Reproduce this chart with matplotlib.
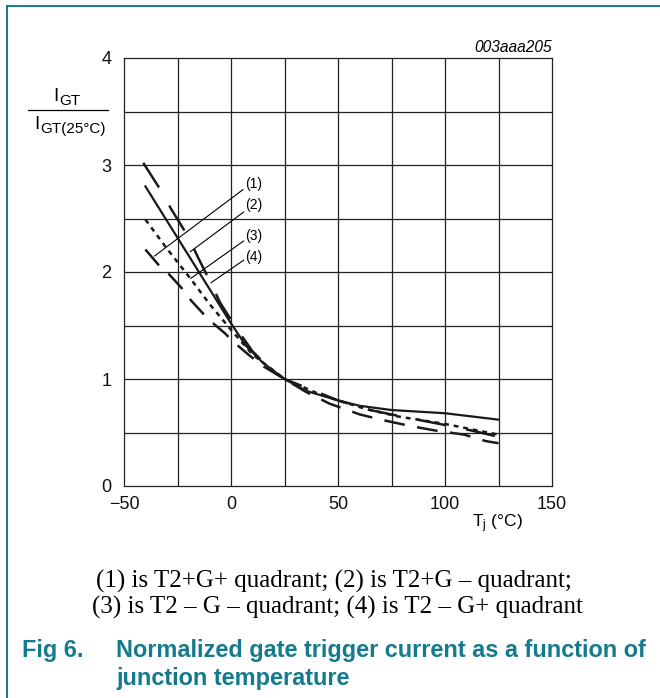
import matplotlib
matplotlib.use("Agg")
import matplotlib.pyplot as plt
from matplotlib.lines import Line2D

plt.rcParams['font.family'] = ['Liberation Sans', 'DejaVu Sans']
plt.rcParams['mathtext.fontset'] = 'custom'
plt.rcParams['mathtext.rm'] = 'Liberation Sans'
plt.rcParams['mathtext.it'] = 'Liberation Sans:italic'
plt.rcParams['lines.scale_dashes'] = False

# Normalized gate trigger current vs junction temperature, four quadrants
t_q1 = [-40, -34, -29, -23.5, -18.5, -12.5, -9.5, -3, 1, 8, 15, 25, 35, 46, 60, 70, 84, 95, 109, 119, 125]
igt_q1 = [2.21, 2.07, 1.98, 1.86, 1.73, 1.60, 1.54, 1.43, 1.35, 1.23, 1.12, 1.00, 0.88, 0.77, 0.67, 0.62, 0.56, 0.52, 0.48, 0.42, 0.40]

t_q2 = [-40, -30, -20, -10, 0, 7, 15, 25, 35, 50, 60, 75, 100, 125]
igt_q2 = [2.80, 2.48, 2.16, 1.84, 1.52, 1.31, 1.15, 1.00, 0.89, 0.80, 0.75, 0.71, 0.68, 0.62]

t_q3 = [-40, -30, -19, -10, 0, 10, 25, 40, 50, 63, 78, 100, 125]
igt_q3 = [2.49, 2.22, 1.94, 1.70, 1.46, 1.23, 1.00, 0.87, 0.80, 0.72, 0.65, 0.58, 0.48]

t_q4 = [-41, -33, -28, -20, -15.5, -9.5, -5, 3, 10, 19, 25, 40, 50, 65, 82, 100, 112, 125]
igt_q4 = [3.02, 2.77, 2.59, 2.33, 2.14, 1.90, 1.71, 1.46, 1.26, 1.08, 1.00, 0.88, 0.80, 0.71, 0.64, 0.57, 0.52, 0.46]

x_ticks = [-50, 0, 50, 100, 150]
x_tick_labels = ['\u221250', '0', '50', '100', '150']
y_ticks = [0, 1, 2, 3, 4]
y_tick_labels = ['0', '1', '2', '3', '4']
curve_names = ['(1)', '(2)', '(3)', '(4)']

W, H = 660, 698
fig = plt.figure(figsize=(W / 100, H / 100), dpi=100)


def fx(px):
    return px / W


def fy(py):
    return 1 - py / H


teal = '#147a8e'

# frame around the figure block
fig.add_artist(Line2D([fx(7), fx(7)], [fy(6), fy(698)], color=teal, lw=1.4))
fig.add_artist(Line2D([fx(7), fx(660)], [fy(6), fy(6)], color=teal, lw=1.4))

ax = fig.add_axes([fx(124), fy(486), fx(552) - fx(124), fy(58) - fy(486)])
ax.set_xlim(-50, 150)
ax.set_ylim(0, 4)

grid_c = '#222222'
for gx in range(-25, 150, 25):
    ax.axvline(gx, color=grid_c, lw=0.9, zorder=1)
for gy in [0.5, 1, 1.5, 2, 2.5, 3, 3.5]:
    ax.axhline(gy, color=grid_c, lw=0.9, zorder=1)
for s in ax.spines.values():
    s.set_linewidth(0.9)
    s.set_color(grid_c)

ax.set_xticks(x_ticks)
ax.set_xticklabels(x_tick_labels)
ax.set_yticks(y_ticks)
ax.set_yticklabels(y_tick_labels)
ax.tick_params(axis='both', length=0, labelsize=13, colors='#111111')
ax.tick_params(axis='x', pad=7)
ax.tick_params(axis='y', pad=9)

lc = '#1a1a1a'
ax.plot(t_q1, igt_q1, color=lc, lw=1.8, dashes=(15, 9), zorder=3)
ax.plot(t_q2, igt_q2, color=lc, lw=1.6, zorder=3)
ax.plot(t_q3, igt_q3, color=lc, lw=1.8, dashes=(3.5, 3.5), zorder=3)
ax.plot(t_q4, igt_q4, color=lc, lw=1.8, dashes=(21, 15), zorder=3)

# curve labels with leader lines
label_pos = [(254, 184), (254, 205), (254, 236), (254, 257)]
leaders = [((5.6, 2.77), (-35.7, 2.15)),
           ((5.9, 2.56), (-19.0, 2.19)),
           ((5.9, 2.29), (-18.8, 1.94)),
           ((5.9, 2.11), (-9.3, 1.90))]
for name, (px, py), (p0, p1) in zip(curve_names, label_pos, leaders):
    fig.text(fx(px), fy(py), name, fontsize=10, ha='center', va='center')
    ax.plot([p0[0], p1[0]], [p0[1], p1[1]], color='black', lw=0.8, zorder=4, clip_on=False)

# axis titles
fig.text(fx(497), fy(524), r'$\mathregular{T_j}$ (°C)', fontsize=12.5, ha='center', va='center')


def subscripted(x_left, y_base, main, sub):
    """Write a main letter followed by a lowered subscript, baseline in pixels."""
    fig.text(fx(x_left), fy(y_base), main, fontsize=13.5, ha='left', va='baseline')
    fig.text(fx(x_left + 6), fy(y_base + 4), sub, fontsize=11, ha='left', va='baseline')


subscripted(53, 101, 'I', 'GT')
fig.add_artist(Line2D([fx(28), fx(108)], [fy(110), fy(110)], color='black', lw=0.9))
subscripted(34, 129, 'I', 'GT(25°C)')
fig.text(fx(552), fy(47), '003aaa205', fontsize=11.2, style='italic', ha='right', va='center')

# caption
serif = ['Liberation Serif', 'DejaVu Serif']
fig.text(fx(334), fy(581), '(1) is T2+G+ quadrant; (2) is T2+G \u2013 quadrant;',
         fontsize=18, family=serif, ha='center', va='center')
fig.text(fx(337), fy(607), '(3) is T2 \u2013 G \u2013 quadrant; (4) is T2 \u2013 G+ quadrant',
         fontsize=18, family=serif, ha='center', va='center')
fig.text(fx(22), fy(650), 'Fig 6.', fontsize=16.9, weight='bold', color=teal, ha='left', va='center')
fig.text(fx(116), fy(650), 'Normalized gate trigger current as a function of',
         fontsize=16.9, weight='bold', color=teal, ha='left', va='center')
fig.text(fx(116), fy(679), 'junction temperature',
         fontsize=16.9, weight='bold', color=teal, ha='left', va='center')

fig.savefig('out.png', dpi=100)
